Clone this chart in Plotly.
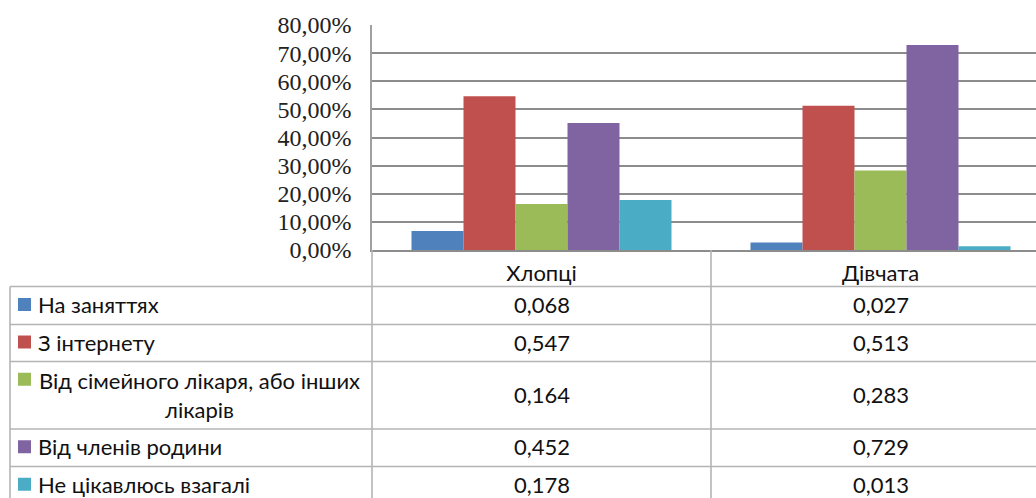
import plotly.graph_objects as go

# Groups (table columns) and answer options (table rows)
groups = ["Хлопці", "Дівчата"]
series_names = [
    "На заняттях",
    "З інтернету",
    "Від сімейного лікаря, або інших<br>лікарів",
    "Від членів родини",
    "Не цікавлюсь взагалі",
]
values_boys = [0.068, 0.547, 0.164, 0.452, 0.178]
values_girls = [0.027, 0.513, 0.283, 0.729, 0.013]
colors = ["#4F81BD", "#C0504D", "#9BBB59", "#8064A2", "#4BACC6"]
y_ticks = [0, 0.1, 0.2, 0.3, 0.4, 0.5, 0.6, 0.7, 0.8]

W, H = 1036, 498
AXIS_X = 372          # left edge of the plot area / first column border
MID_X = 711           # border between the two data columns
CAT_W = MID_X - AXIS_X
ZERO_Y, TOP_Y = 250, 25
TABLE_LEFT = 10
row_lines = [286.5, 324.5, 361.5, 429, 466.5, 504]

def px(x):
    return x / W

def py(y):
    return 1 - y / H

fig = go.Figure()
for name, c, vb, vg in zip(series_names, colors, values_boys, values_girls):
    fig.add_trace(go.Bar(x=groups, y=[vb, vg], name=name.replace("<br>", " "),
                         marker=dict(color=c, line=dict(width=0))))

shapes = []
line_col = "#b4b4b4"
# horizontal table borders
for y in row_lines[:-1]:
    shapes.append(dict(type="line", xref="paper", yref="paper",
                       x0=px(TABLE_LEFT), x1=1, y0=py(y), y1=py(y),
                       line=dict(color=line_col, width=1.6)))
# vertical table borders
shapes.append(dict(type="line", xref="paper", yref="paper",
                   x0=px(TABLE_LEFT), x1=px(TABLE_LEFT), y0=py(row_lines[0]), y1=0,
                   line=dict(color=line_col, width=1.6)))
shapes.append(dict(type="line", xref="paper", yref="paper",
                   x0=px(AXIS_X), x1=px(AXIS_X), y0=py(ZERO_Y), y1=0,
                   line=dict(color=line_col, width=1.6)))
shapes.append(dict(type="line", xref="paper", yref="paper",
                   x0=px(MID_X), x1=px(MID_X), y0=py(ZERO_Y), y1=0,
                   line=dict(color=line_col, width=1.6)))

annotations = []
label_font = dict(family="Lato, 'Open Sans', sans-serif", size=22, color="#111")
for i, (name, c) in enumerate(zip(series_names, colors)):
    top, bot = row_lines[i], row_lines[i + 1]
    yc = (top + bot) / 2
    if "<br>" in name:
        # wrapped label: centred block, legend key before the first line
        annotations.append(dict(xref="paper", yref="paper", x=px(199), y=py(yc),
                                text=name, showarrow=False, xanchor="center",
                                yanchor="middle", align="center", font=label_font))
        key_y = yc - 16
    else:
        annotations.append(dict(xref="paper", yref="paper", x=px(36), y=py(yc - 1),
                                text=name, showarrow=False, xanchor="left",
                                yanchor="middle", font=label_font))
        key_y = yc - 1
    shapes.append(dict(type="rect", xref="paper", yref="paper",
                       x0=px(18), x1=px(31), y0=py(key_y - 6.5), y1=py(key_y + 6.5),
                       fillcolor=c, line=dict(width=0)))
    for j, v in enumerate([values_boys[i], values_girls[i]]):
        annotations.append(dict(xref="x", yref="paper", x=groups[j], y=py(yc - 1),
                                text=f"{v:.3f}".replace(".", ","), showarrow=False,
                                xanchor="center", yanchor="middle", font=label_font))

fig.update_layout(
    width=W, height=H,
    margin=dict(l=0, r=0, t=0, b=0, autoexpand=False),
    paper_bgcolor="white", plot_bgcolor="white",
    separators=", ",
    showlegend=False,
    barmode="group",
    bargap=0.233, bargroupgap=0,
    shapes=shapes,
    annotations=annotations,
    xaxis=dict(domain=[px(AXIS_X), 1], range=[-0.5, -0.5 + (W - AXIS_X) / CAT_W],
               automargin=False,
               showgrid=False, zeroline=False, showline=True,
               linecolor="#8c8c8c", linewidth=1.6, ticks="",
               tickfont=label_font, ticklabelstandoff=3),
    yaxis=dict(domain=[py(ZERO_Y), py(TOP_Y)], range=[0, 0.8],
               automargin=False,
               tickvals=y_ticks, tickformat=".2%",
               showgrid=True, gridcolor="#8c8c8c", gridwidth=1.6,
               zeroline=False, showline=True, linecolor="#a0a0a0", linewidth=1.6,
               ticks="", ticklabelstandoff=14,
               tickfont=dict(family="Liberation Serif, serif", size=24, color="#222")),
)

fig.write_html("out.html")
